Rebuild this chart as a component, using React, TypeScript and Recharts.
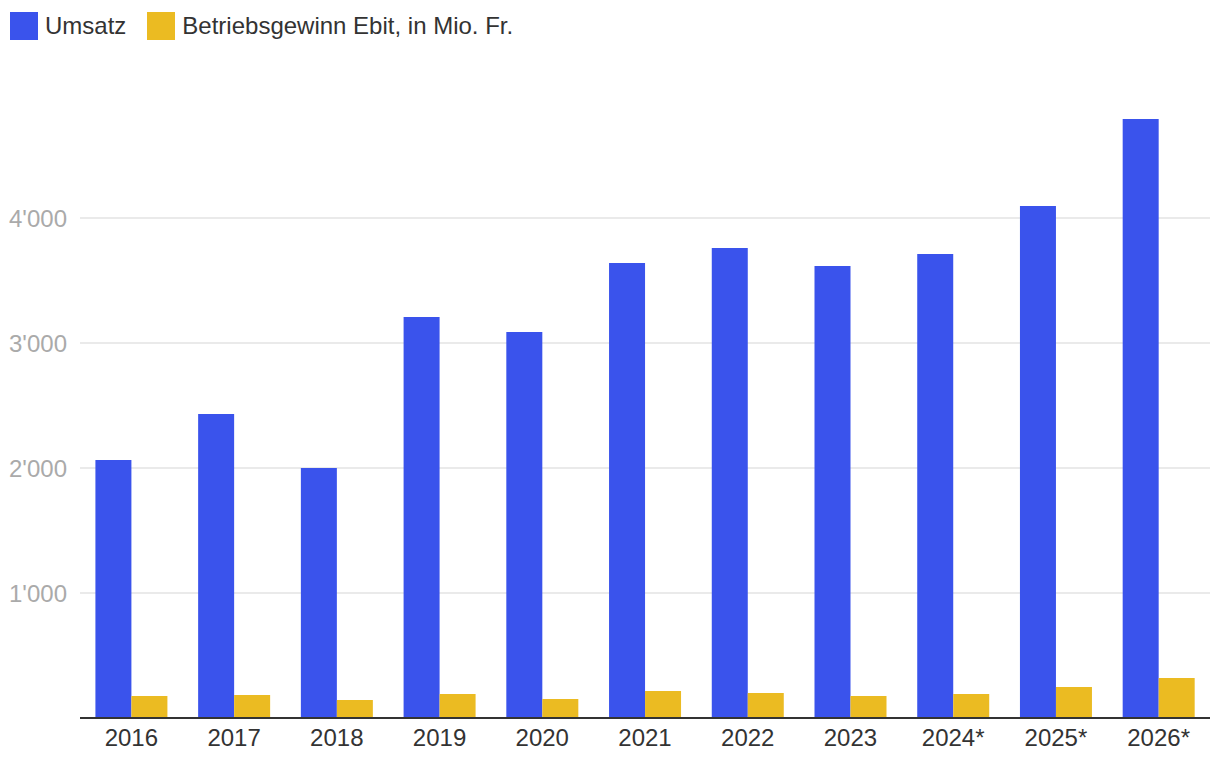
import { BarChart, Bar, XAxis, YAxis, CartesianGrid } from 'recharts'

const YEARS = ['2016', '2017', '2018', '2019', '2020', '2021', '2022', '2023', '2024*', '2025*', '2026*']
const UMSATZ = [2064, 2432, 2000, 3208, 3088, 3640, 3760, 3616, 3712, 4096, 4792]
const EBIT = [176, 184, 144, 192, 152, 216, 200, 176, 192, 248, 320]
const Y_TICKS = [1000, 2000, 3000, 4000]

const BLUE = '#3a53ec'
const YELLOW = '#ebbb22'
const FONT = '"Liberation Sans", Arial, Helvetica, sans-serif'

const data = YEARS.map((year, i) => ({ year, umsatz: UMSATZ[i], ebit: EBIT[i] }))

const fmt = (v: number) => String(v).replace(/\B(?=(\d{3})+(?!\d))/g, "'")

function LegendItem({ color, label }: { color: string; label: string }) {
  return (
    <div style={{ display: 'flex', alignItems: 'center', marginRight: 21 }}>
      <span style={{ width: 28, height: 28, background: color, display: 'inline-block', marginRight: 7 }} />
      <span style={{ fontSize: 24, color: '#333', lineHeight: '28px' }}>{label}</span>
    </div>
  )
}

export default function App() {
  return (
    <div style={{ position: 'absolute', left: 0, top: 0, width: 1220, height: 770, fontFamily: FONT, background: '#fff' }}>
      <div style={{ position: 'absolute', left: 10, top: 12, display: 'flex', height: 28 }}>
        <LegendItem color={BLUE} label="Umsatz" />
        <LegendItem color={YELLOW} label="Betriebsgewinn Ebit, in Mio. Fr." />
      </div>
      <BarChart
        width={1220}
        height={770}
        data={data}
        margin={{ top: 93, right: 10, left: 0, bottom: 12 }}
        barCategoryGap="15%"
        barGap={0}
      >
        <CartesianGrid vertical={false} horizontalValues={Y_TICKS} stroke="#e3e3e3" strokeWidth={1.5} />
        <XAxis
          dataKey="year"
          height={40}
          tickLine={false}
          tickSize={0}
          tickMargin={11}
          axisLine={{ stroke: '#333', strokeWidth: 2 }}
          tick={{ fontSize: 24, fill: '#333', fontFamily: FONT }}
        />
        <YAxis
          width={80}
          domain={[0, 5000]}
          ticks={Y_TICKS}
          tickFormatter={fmt}
          axisLine={false}
          tickLine={false}
          tickSize={0}
          tickMargin={13}
          tick={{ fontSize: 24, fill: '#aaa', fontFamily: FONT }}
        />
        <Bar dataKey="umsatz" fill={BLUE} isAnimationActive={false} />
        <Bar dataKey="ebit" fill={YELLOW} isAnimationActive={false} />
      </BarChart>
    </div>
  )
}
